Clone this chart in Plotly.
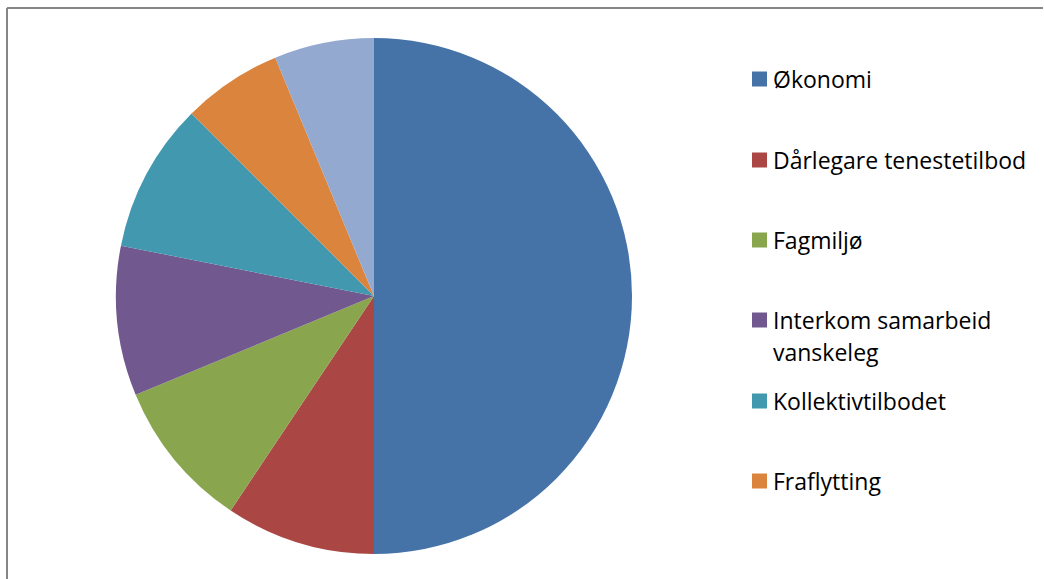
import plotly.graph_objects as go

labels = ["Økonomi", "Dårlegare tenestetilbod", "Fagmiljø",
          "Interkom samarbeid<br>vanskeleg", "Kollektivtilbodet", "Fraflytting", "Anna"]
values = [16, 3, 3, 3, 3, 2, 2]
colors = ["#4572A7", "#AA4643", "#89A54E", "#71588F", "#4198AF", "#DB843D", "#93A9CF"]
# legend row centres (px from top) for the visible entries
legend_rows = [79, 160, 240, 320, 401, 481]

W, H = 1044, 579
cx, cy, r = 374, 296, 258

fig = go.Figure(go.Pie(
    labels=labels, values=values, sort=False, direction="clockwise", rotation=0,
    marker=dict(colors=colors, line=dict(width=0)),
    textinfo="none", hoverinfo="label+percent", showlegend=False,
    domain=dict(x=[(cx - r) / W, (cx + r) / W], y=[1 - (cy + r) / H, 1 - (cy - r) / H]),
))

shapes = [
    dict(type="line", xref="paper", yref="paper", x0=7 / W, x1=1043 / W, y0=1 - 8 / H, y1=1 - 8 / H,
         line=dict(color="#868686", width=2)),
    dict(type="line", xref="paper", yref="paper", x0=7 / W, x1=7 / W, y0=1 - 8 / H, y1=0,
         line=dict(color="#868686", width=2)),
]
annotations = []
for lab, col, yc in zip(labels, colors, legend_rows):
    shapes.append(dict(type="rect", xref="paper", yref="paper",
                       x0=752 / W, x1=767 / W, y0=1 - (yc + 7.5) / H, y1=1 - (yc - 7.5) / H,
                       fillcolor=col, line=dict(width=0)))
    for i, line in enumerate(lab.split("<br>")):
        annotations.append(dict(xref="paper", yref="paper", x=771 / W, y=1 - (yc + i * 32) / H,
                                xanchor="left", yanchor="middle", showarrow=False, text=line,
                                font=dict(family="Open Sans", size=23, color="#000000")))

fig.update_layout(
    width=W, height=H, margin=dict(l=0, r=0, t=0, b=0),
    paper_bgcolor="white", plot_bgcolor="white",
    shapes=shapes, annotations=annotations,
)
fig.write_html("out.html", config={"displayModeBar": False},
               post_script="document.body.style.margin='0';document.body.style.padding='0';")
